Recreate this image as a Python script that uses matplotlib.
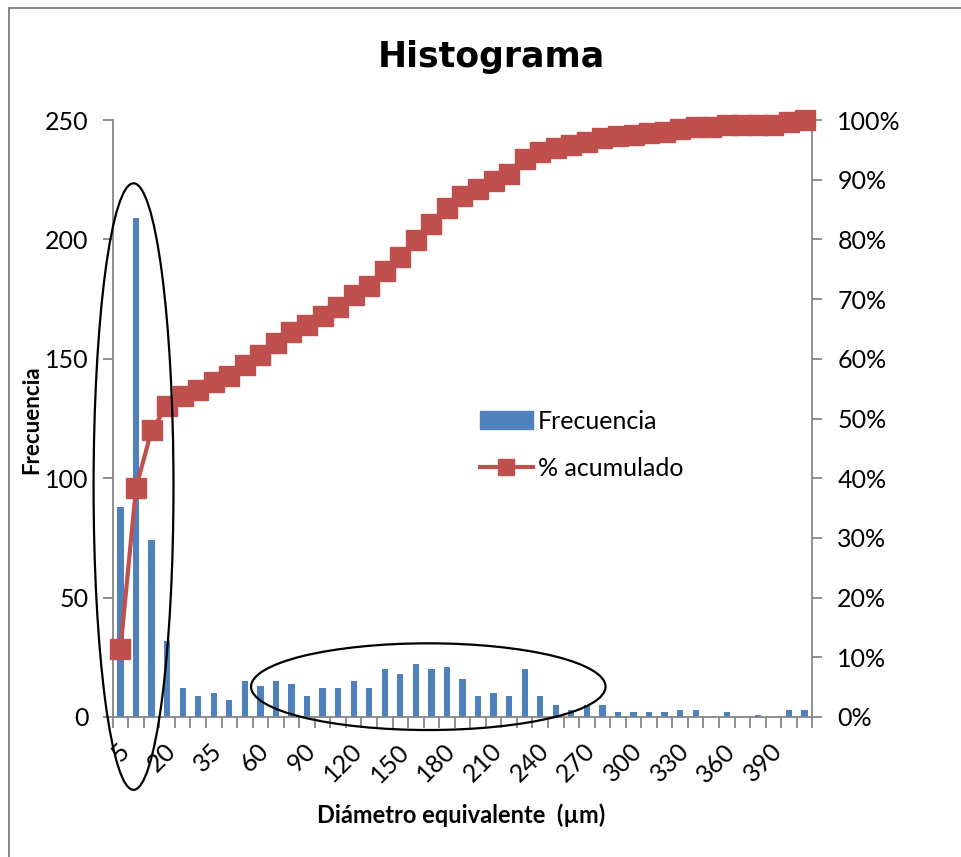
import numpy as np
import matplotlib
matplotlib.use("Agg")
import matplotlib.pyplot as plt
from matplotlib.patches import Ellipse, Rectangle, Patch
from matplotlib.lines import Line2D
from matplotlib.ticker import FixedLocator, PercentFormatter
from matplotlib.transforms import ScaledTranslation

plt.rcParams['font.family'] = ['Lato', 'DejaVu Sans']

# Bin upper limits (µm) and particle counts per bin
bins = [5, 10, 15, 20, 25, 30, 35, 40, 50, 60, 70, 80, 90, 100, 110, 120,
        130, 140, 150, 160, 170, 180, 190, 200, 210, 220, 230, 240, 250,
        260, 270, 280, 290, 300, 310, 320, 330, 340, 350, 360, 370, 380,
        390, 400, 410]
freq = [88, 209, 74, 32, 12, 9, 10, 7, 15, 13, 15, 14, 9, 12, 12, 15,
        12, 20, 18, 22, 20, 21, 16, 9, 10, 9, 20, 9, 5,
        3, 5, 5, 2, 2, 2, 2, 3, 3, 0, 2, 0, 1,
        0, 3, 3]
freq_ticks = [0, 50, 100, 150, 200, 250]
pct_ticks = [0.0, 0.1, 0.2, 0.3, 0.4, 0.5, 0.6, 0.7, 0.8, 0.9, 1.0]

BLUE = '#4F81BD'
RED = '#C0504D'
GRAY = '#868686'
W, H = 962, 857
FS = 18

cum = np.cumsum(freq) / np.sum(freq)
x = np.arange(len(bins))

fig = plt.figure(figsize=(W / 100, H / 100), dpi=100)
fig.patch.set_facecolor('white')

# chart-area border
fig.add_artist(Rectangle((9 / W, -0.1), 1.2, (1 - 8 / H) + 0.1,
                         transform=fig.transFigure, fill=False,
                         ec=GRAY, lw=1.4))

ax = fig.add_axes([112.7 / W, 1 - 717 / H, 699.6 / W, 597 / H])
ax.bar(x, freq, width=0.4, color=BLUE, zorder=2)
ax.set_xlim(-0.5, len(bins) - 0.5)
ax.set_ylim(0, 250)
ax.set_yticks(freq_ticks)

# tick marks between categories, labels on every third category
ax.set_xticks(np.arange(-0.5, len(bins)), [''] * (len(bins) + 1))
ax.set_xticks(x[::3], [str(b) for b in bins[::3]], minor=True)
ax.tick_params(axis='x', which='major', length=8, width=1.3, color=GRAY)
ax.tick_params(axis='x', which='minor', length=0, pad=16, labelsize=FS)
shift = ScaledTranslation(13 / 100, 0, fig.dpi_scale_trans)
for lab in ax.get_xticklabels(minor=True):
    lab.set_rotation(45)
    lab.set_ha('right')
    lab.set_va('top')
    lab.set_transform(lab.get_transform() + shift)
ax.tick_params(axis='y', length=7, width=1.3, color=GRAY, pad=10.5,
               labelsize=FS)
for s in ['top', 'right']:
    ax.spines[s].set_visible(False)
for s in ['left', 'bottom']:
    ax.spines[s].set_color(GRAY)
    ax.spines[s].set_linewidth(1.3)

ax2 = ax.twinx()
ax2.plot(x, cum, color=RED, lw=3, marker='s', ms=14.5, clip_on=False,
         zorder=3)
ax2.set_ylim(0, 1)
ax2.yaxis.set_major_locator(FixedLocator(pct_ticks))
ax2.yaxis.set_major_formatter(PercentFormatter(1.0, decimals=0))
ax2.tick_params(axis='y', length=7, width=1.3, color=GRAY, pad=11,
                labelsize=FS)
for s in ['top', 'left', 'bottom']:
    ax2.spines[s].set_visible(False)
ax2.spines['right'].set_color(GRAY)
ax2.spines['right'].set_linewidth(1.3)

# highlighted regions
for (cx, cy, w, h) in [(0.84, 96.5, 5.14, 254), (19.8, 12.7, 22.8, 36.3)]:
    e = Ellipse((cx, cy), w, h, transform=ax.transData, fill=False,
                ec='black', lw=1.6, clip_on=False, zorder=10)
    ax2.add_artist(e)

handles = [Patch(color=BLUE),
           Line2D([], [], color=RED, lw=3, marker='s', ms=12)]
leg = ax2.legend(handles, ['Frecuencia', '% acumulado'],
                 loc='upper left', bbox_to_anchor=(480 / W, 1 - 410 / H),
                 bbox_transform=fig.transFigure, frameon=False,
                 fontsize=FS, borderpad=0, borderaxespad=0,
                 handlelength=2.1, handletextpad=0.22, labelspacing=0.95)

fig.text(491 / W, 1 - 67 / H, 'Histograma', ha='center', va='baseline',
         fontsize=25, fontweight='bold', family='DejaVu Sans')
fig.text(32 / W, 1 - 420 / H, 'Frecuencia', rotation=90, ha='center',
         va='center', fontsize=16, fontweight='bold')
fig.text(461 / W, 1 - 815 / H, 'Diámetro equivalente  (µm)', ha='center',
         va='center', fontsize=17, fontweight='bold')

fig.savefig('out.png', dpi=100)
